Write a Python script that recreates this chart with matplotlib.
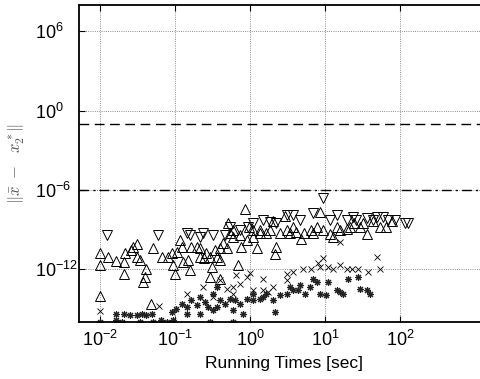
import numpy as np
import matplotlib
matplotlib.use('Agg')
from matplotlib import pyplot as plt

plt.rcParams['font.family'] = ['Liberation Sans', 'DejaVu Sans']
plt.rcParams['mathtext.fontset'] = 'cm'

# values, as log10(running time [sec]) and log10(error)
# up triangles
up_t = [-2.00, -2.00, -2.00, -1.89, -1.79, -1.68, -1.67, -1.59, -1.56, -1.51,
        -1.50, -1.46, -1.42, -1.40, -1.38, -1.68, -1.29, -1.32, -1.17, -1.09,
        -1.04, -1.03, -1.00, -0.97, -0.93, -0.91, -0.89, -0.82, -0.80, -0.78,
        -0.70, -0.67, -0.61, -0.59, -0.53, -0.51, -0.47, -0.44, -0.40, -0.40,
        -0.36, -0.29, -0.27, -0.22, -0.16, -0.12, -0.06, -0.04, -0.01, 0.04,
        0.09, 0.13, 0.22, 0.31, 0.33, 0.35, 0.40, 0.47, 0.53, 0.58,
        0.68, 0.72, 0.81, 0.93, 0.98, 1.07, 1.11, 1.16, 1.29, 1.39,
        1.47, 1.56, 1.64, 1.73, 1.82, 1.90, 0.13, 0.27, 0.49, 0.62,
        0.84, 0.89, 1.20, 1.33, 1.51, -0.22, -0.13, 0.04, -0.40, -0.31,
        -0.67, -0.53]
up_e = [-10.81, -11.70, -14.03, -11.06, -11.37, -11.44, -10.81, -10.56, -10.35, -10.13,
        -11.11, -11.32, -12.96, -12.58, -11.95, -12.33, -10.43, -14.61, -11.06, -11.06,
        -10.81, -11.70, -12.33, -10.68, -9.80, -10.30, -11.44, -11.32, -12.08, -10.30,
        -10.30, -10.43, -11.19, -10.81, -12.58, -11.82, -10.56, -11.06, -11.32, -12.71,
        -10.05, -8.48, -9.29, -9.59, -11.70, -10.30, -7.47, -9.80, -8.78, -9.04,
        -10.43, -9.29, -9.24, -8.33, -10.86, -10.35, -9.29, -7.97, -9.29, -8.78,
        -9.75, -9.24, -9.04, -7.65, -9.04, -9.34, -9.59, -8.78, -8.99, -8.48,
        -8.78, -9.34, -8.33, -8.84, -8.84, -8.33, -9.04, -9.04, -9.04, -9.16,
        -9.29, -8.78, -9.04, -8.78, -8.53, -9.04, -9.42, -9.54, -10.43, -10.43,
        -11.06, -11.06]

# down triangles
dn_t = [-1.90, -1.22, -0.84, -0.80, -0.67, -0.62, -0.49, -0.33, -0.13, -0.02,
        0.04, 0.18, 0.27, 0.49, 0.58, 0.84, 0.98, 1.07, 1.16, 1.29,
        1.42, 1.56, 1.69, 1.78, 1.84, 1.93, 2.07, 2.11, 1.38, 1.64,
        0.35, 0.67, -0.27]
dn_e = [-9.42, -9.42, -9.29, -9.42, -9.54, -9.29, -9.42, -9.42, -9.04, -8.78,
        -8.53, -8.28, -8.41, -7.90, -7.90, -7.77, -6.63, -8.28, -7.90, -8.28,
        -8.28, -8.15, -8.03, -8.08, -8.28, -8.28, -8.48, -8.48, -8.03, -8.28,
        -8.53, -8.28, -8.78]

# crosses
x_t = [-2.00, -1.21, -0.84, -0.62, -0.40, -0.18, -0.22, -0.04, 0.00, 0.04,
       0.18, 0.18, 0.24, 0.31, 0.49, 0.58, 0.71, 0.82, 0.91, 0.98,
       1.04, 1.11, 1.20, 1.29, 1.36, 1.44, 1.58, 1.69, 1.73, 1.20,
       0.93, 0.49, -0.22, -0.49, -0.13, -0.31]
x_e = [-15.19, -14.81, -13.85, -13.34, -12.84, -12.46, -13.34, -12.58, -12.28, -13.59,
       -12.71, -13.59, -13.72, -13.34, -12.33, -12.20, -11.95, -11.95, -11.57, -11.19,
       -11.82, -11.95, -11.70, -11.95, -11.95, -11.95, -12.20, -11.06, -11.95, -9.92,
       -11.82, -12.84, -13.85, -14.10, -13.09, -13.47]

# asterisks
s_t = [-2.00, -1.79, -1.79, -1.68, -1.60, -1.51, -1.44, -1.38, -1.31, -1.29,
       -1.18, -1.11, -1.04, -1.02, -0.98, -0.91, -0.84, -0.78, -0.71, -0.67,
       -0.60, -0.56, -0.49, -0.49, -0.44, -0.40, -0.33, -0.27, -0.22, -0.20,
       -0.13, -0.09, -0.04, 0.04, 0.13, 0.22, 0.31, 0.33, 0.40, 0.49,
       0.58, 0.67, 0.73, 0.80, 0.84, 0.89, 0.93, 1.02, 1.04, 1.16,
       1.20, 1.24, 1.31, 1.44, 1.47, 1.56, 1.60, -0.53, -1.47, -1.71,
       -0.84, -0.67, -0.22, -0.44, 0.04, 0.18, 0.53, 0.64]
s_e = [-16.03, -15.37, -15.87, -15.37, -15.49, -15.49, -15.37, -15.49, -15.37, -16.03,
       -15.87, -16.03, -15.24, -15.87, -14.99, -14.61, -14.86, -14.35, -14.73, -14.10,
       -14.48, -14.86, -13.85, -15.11, -13.34, -14.35, -14.61, -14.23, -16.03, -14.35,
       -14.61, -15.37, -14.23, -14.35, -14.23, -13.85, -14.35, -15.24, -13.97, -13.85,
       -13.59, -13.22, -13.85, -13.34, -12.71, -12.96, -13.85, -13.97, -12.96, -13.59,
       -13.72, -13.85, -12.71, -12.58, -13.47, -13.59, -13.85, -16.03, -16.03, -16.03,
       -15.37, -15.37, -15.11, -14.86, -13.85, -14.10, -13.34, -13.59]

# reference levels
dash_level = 1e-1
dashdot_level = 1e-6

fig = plt.figure(figsize=(4.81, 3.79), dpi=100)
ax = fig.add_axes([0.1642, 0.1504, 0.875, 0.8364])

ax.axhline(dash_level, color='k', ls=(0, (7, 4)), lw=1.0, zorder=1)
ax.axhline(dashdot_level, color='k', ls=(0, (7, 3, 1.5, 3)), lw=1.0, zorder=1)

mk = dict(ls='none', mfc='none', mec='k', mew=0.7, ms=6.5)
ax.plot(10**np.array(up_t), 10**np.array(up_e), marker='^', **mk)
ax.plot(10**np.array(dn_t), 10**np.array(dn_e), marker='v', **mk)
ax.plot(10**np.array(x_t), 10**np.array(x_e), marker='x', ls='none', color='k', mew=0.6, ms=4.5)
ax.plot(10**np.array(s_t), 10**np.array(s_e), marker=(8, 2, 0), ls='none', color='#222222', mew=0.8, ms=5)

ax.set_xscale('log')
ax.set_yscale('log')
ax.set_xlim(10**-2.28, 10**3.333)
ax.set_ylim(1e-16, 1e8)
ax.set_xticks([1e-2, 1e-1, 1e0, 1e1, 1e2])
ax.set_yticks([1e-12, 1e-6, 1e0, 1e6])
ax.minorticks_off()
ax.tick_params(direction='in', top=True, right=True, labelsize=13, length=4)
ax.tick_params(axis='x', pad=6)
ax.tick_params(axis='y', pad=32)
for lbl in ax.get_yticklabels():
    lbl.set_horizontalalignment('left')
ax.grid(True, ls=':', color='k', lw=0.6, alpha=0.6)
for s in ax.spines.values():
    s.set_linewidth(1.3)

ax.set_xlabel('Running Times [sec]', fontsize=12.5, labelpad=4)
ax.xaxis.label.set_x(0.487)
ax.set_ylabel(r'$\|\bar{x}\ -\ \ x^*_2\|$', fontsize=12, color='#555555')
ax.yaxis.set_label_coords(-0.122, 0.5)

fig.savefig('out.png', dpi=100)
